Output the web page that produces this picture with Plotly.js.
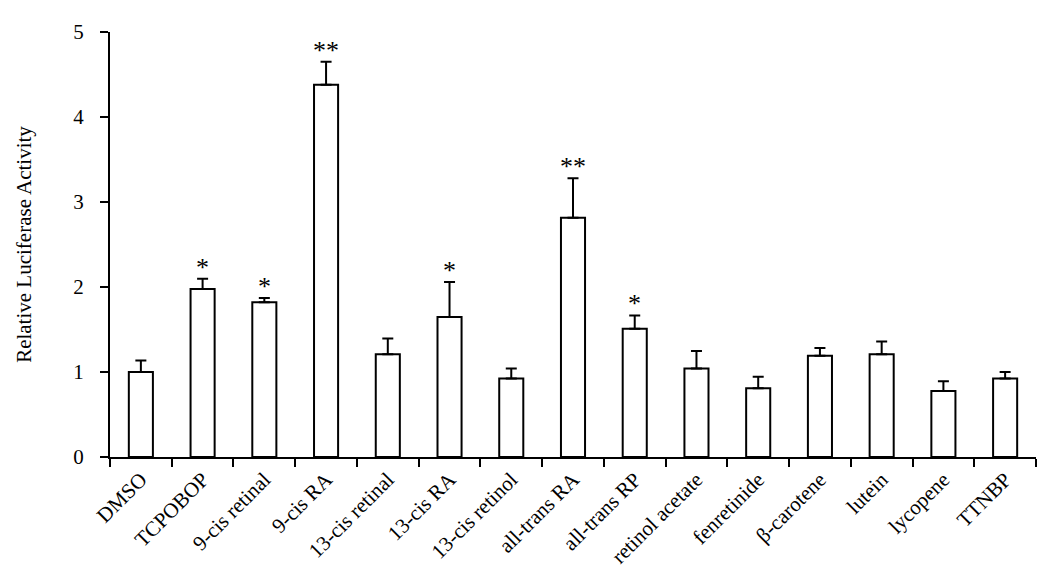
<!DOCTYPE html>
<html>
<head>
<meta charset="utf-8">
<script src="https://cdn.plot.ly/plotly-3.0.1.min.js"></script>
<style>html,body{margin:0;padding:0;background:#fff;}#chart{width:1050px;height:581px;}</style>
</head>
<body>
<div id="chart"></div>
<script>
const categories = ["DMSO","TCPOBOP","9-cis retinal","9-cis RA","13-cis retinal","13-cis RA","13-cis retinol","all-trans RA","all-trans RP","retinol acetate","fenretinide","β-carotene","lutein","lycopene","TTNBP"];
const values = [1.00, 1.976, 1.82, 4.38, 1.21, 1.647, 0.925, 2.815, 1.51, 1.04, 0.81, 1.19, 1.21, 0.776, 0.925];
const errors = [0.135, 0.122, 0.05, 0.27, 0.185, 0.413, 0.115, 0.465, 0.156, 0.207, 0.135, 0.092, 0.15, 0.114, 0.075];
const significance = ["", "*", "*", "**", "", "*", "", "**", "*", "", "", "", "", "", ""];

const font = "Liberation Serif, Times New Roman, serif";

const trace = {
  type: "bar",
  x: categories,
  y: values,
  width: 0.39,
  marker: {color: "#ffffff", line: {color: "#000000", width: 2}},
  error_y: {type: "data", symmetric: false, array: errors, arrayminus: values.map(() => 0), color: "#000000", thickness: 2, width: 5.5},
  hoverinfo: "skip"
};

const annotations = [];
categories.forEach((c, i) => {
  if (significance[i]) {
    annotations.push({
      x: c, y: values[i] + errors[i], xref: "x", yref: "y",
      text: significance[i], showarrow: false,
      yanchor: "bottom", yshift: -5,
      font: {family: font, size: 26, color: "#000000"}
    });
  }
});

const layout = {
  width: 1050, height: 581,
  margin: {l: 110, r: 14, t: 32, b: 124},
  paper_bgcolor: "#fff", plot_bgcolor: "#fff",
  showlegend: false,
  font: {family: font, color: "#000"},
  xaxis: {
    type: "category",
    tickson: "boundaries",
    ticks: "outside", ticklen: 8, tickwidth: 2, tickcolor: "#000",
    showline: true, linecolor: "#000", linewidth: 2,
    showgrid: false, zeroline: false,
    tickangle: -45,
    tickfont: {family: font, size: 21, color: "#000"},
    fixedrange: true
  },
  yaxis: {
    range: [0, 5], dtick: 1, tick0: 0,
    ticks: "outside", ticklen: 8, tickwidth: 2, tickcolor: "#000",
    showline: true, linecolor: "#000", linewidth: 2,
    showgrid: false, zeroline: false,
    ticklabelstandoff: 12,
    tickfont: {family: font, size: 21, color: "#000"},
    title: {text: "Relative Luciferase Activity", font: {family: font, size: 21, color: "#000"}, standoff: 36},
    fixedrange: true
  },
  annotations: annotations
};

Plotly.newPlot("chart", [trace], layout, {displayModeBar: false, staticPlot: true});
</script>
</body>
</html>
